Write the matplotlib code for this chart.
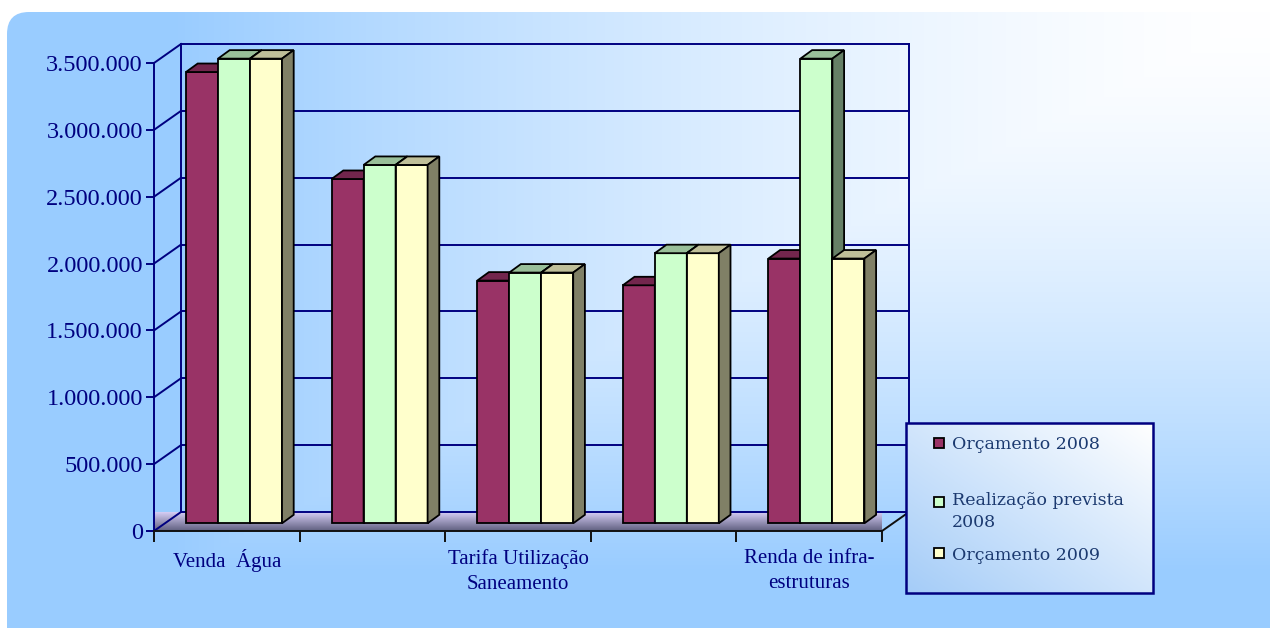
import numpy as np
import matplotlib.pyplot as plt
from matplotlib.patches import Polygon, Rectangle, FancyBboxPatch
from matplotlib.ticker import FuncFormatter

plt.rcParams['font.family'] = ['Liberation Serif', 'DejaVu Serif']

# dados
categorias = ["Venda  Água", "", "Tarifa Utilização\nSaneamento", "", "Renda de infra-\nestruturas"]
series = ["Orçamento 2008", "Realização prevista\n2008", "Orçamento 2009"]
orcamento_2008 = [3375000, 2575000, 1815000, 1780000, 1980000]
realizacao_2008 = [3475000, 2680000, 1875000, 2020000, 3475000]
orcamento_2009 = [3475000, 2680000, 1875000, 2020000, 1980000]
valores = [orcamento_2008, realizacao_2008, orcamento_2009]
yticks = np.arange(0, 3500001, 500000)

cores_frente = ["#993366", "#CCFFCC", "#FFFFCC"]
cores_topo = ["#73264D", "#99BF99", "#BFBF99"]
cores_lado = ["#4D1A33", "#668066", "#808066"]
navy = "#000080"

W, H = 1270, 628
fig = plt.figure(figsize=(W / 100, H / 100), dpi=100)

# fundo (gradiente a partir do canto superior direito)
bg = fig.add_axes([0, 0, 1, 1], zorder=0)
bg.set_xlim(0, W)
bg.set_ylim(H, 0)
bg.axis('off')
yy, xx = np.mgrid[0:H, 0:W]
t = np.maximum((W - xx) / 1100.0, (yy - 12) / 560.0)
t = np.clip(t, 0, 1) ** 1.5
azul = np.array([0x99, 0xCC, 0xFF]) / 255.0
grad = (1 - t)[..., None] * np.ones(3) + t[..., None] * azul
img = bg.imshow(grad, extent=(0, W, H, 0), aspect='auto', interpolation='bilinear')
moldura = FancyBboxPatch((7, 12), W + 30, H + 30, boxstyle="round,pad=0,rounding_size=22",
                         facecolor='none', edgecolor='none')
bg.add_patch(moldura)
img.set_clip_path(moldura)
img.set_clip_box(None)

# eixos principais (plano da frente)
x0, x1, yb, yt = 154, 882, 531, 63
ax = fig.add_axes([x0 / W, 1 - yb / H, (x1 - x0) / W, (yb - yt) / H], zorder=2)
ax.patch.set_alpha(0)
n = len(categorias)
ymax = 3500000
px_x = (x1 - x0) / n
px_y = (yb - yt) / ymax


def desloc(dx, dy):
    return dx / px_x, dy / px_y


# paredes e chao
PX, PY = desloc(27, 19)
piso = Polygon([(0, 0), (n, 0), (n + PX, PY), (0, PY)], closed=True,
               facecolor='none', edgecolor='none')
ax.add_patch(piso)
c_frente = np.array([0x60, 0x60, 0x80]) / 255.0
c_fundo = np.array([0xD4, 0xCC, 0xF4]) / 255.0
s = np.linspace(0, 1, 40)[:, None, None]
grad_piso = (1 - s) * c_frente + s * c_fundo
im_piso = ax.imshow(grad_piso, extent=(0, n + PX, 0, PY), origin='lower', aspect='auto',
                    interpolation='bilinear', zorder=1)
im_piso.set_clip_path(piso)
im_piso.set_clip_box(None)

for v in yticks:
    ax.plot([0, PX], [v, v + PY], color=navy, lw=1.4, clip_on=False, zorder=1.5)
    ax.plot([PX, n + PX], [v + PY, v + PY], color=navy, lw=1.4, clip_on=False, zorder=1.5)
ax.plot([PX, PX], [PY, ymax + PY], color=navy, lw=1.4, clip_on=False, zorder=1.5)
ax.plot([n + PX, n + PX], [PY, ymax + PY], color=navy, lw=1.4, clip_on=False, zorder=1.5)
ax.plot([n, n + PX], [0, PY], color='#101010', lw=1.4, clip_on=False, zorder=1.6)

# barras
larg = 32 / px_x
fx, fy = desloc(7.2, 7.7)
bx, by = desloc(11.7, 8.5)
centros = np.arange(n) + 0.5
for j, vals in enumerate(valores):
    xl = centros + (j - 1.5) * larg + fx
    ax.bar(xl, vals, width=larg, bottom=fy, align='edge', color=cores_frente[j],
           edgecolor='black', lw=1.3, zorder=3 + j, clip_on=False)
    for x, v in zip(xl, vals):
        h = v + fy
        ax.fill([x, x + larg, x + larg + bx, x + bx], [h, h, h + by, h + by],
                facecolor=cores_topo[j], edgecolor='black', lw=1.3, zorder=3 + j, clip_on=False)
        ax.fill([x + larg, x + larg + bx, x + larg + bx, x + larg], [fy, fy + by, h + by, h],
                facecolor=cores_lado[j], edgecolor='black', lw=1.3, zorder=3 + j, clip_on=False)

ax.set_xlim(0, n)
ax.set_ylim(0, ymax)
for lado in ['top', 'right']:
    ax.spines[lado].set_visible(False)
ax.spines['left'].set_color(navy)
ax.spines['left'].set_linewidth(1.4)
ax.spines['left'].set_zorder(2)
ax.spines['bottom'].set_color('#101010')
ax.spines['bottom'].set_linewidth(1.4)

ax.set_yticks(yticks)
ax.yaxis.set_major_formatter(FuncFormatter(lambda v, p: f"{int(v):,}".replace(",", ".")))
ax.tick_params(axis='y', direction='out', length=6, width=1.4, color=navy,
               labelcolor=navy, labelsize=17.5, pad=2)
ax.set_xticks(np.arange(n + 1))
ax.set_xticklabels([])
ax.set_xticks(centros, minor=True)
ax.set_xticklabels(categorias, minor=True, linespacing=1.45)
ax.tick_params(axis='x', which='major', direction='out', length=8, width=1.4, color='#101010')
ax.tick_params(axis='x', which='minor', length=0, pad=13, labelsize=15, labelcolor=navy)

# legenda
ov = fig.add_axes([0, 0, 1, 1], zorder=5)
ov.set_xlim(0, W)
ov.set_ylim(H, 0)
ov.axis('off')
lx0, ly0, lx1, ly1 = 906, 423, 1153, 593
gy, gx = np.mgrid[0:ly1 - ly0, 0:lx1 - lx0]
tl = ((lx1 - lx0 - gx) / (lx1 - lx0) + gy / (ly1 - ly0)) / 2
azul_l = np.array([0xA4, 0xCC, 0xF8]) / 255.0
grad_l = (1 - tl)[..., None] * np.ones(3) + tl[..., None] * azul_l
ov.imshow(grad_l, extent=(lx0, lx1, ly1, ly0), aspect='auto', interpolation='bilinear')
ov.add_patch(Rectangle((lx0, ly0), lx1 - lx0, ly1 - ly0, facecolor='none',
                       edgecolor=navy, lw=1.8))
marc_y = [442.7, 501.7, 553.0]
base_y = [449.3, 526.7, 559.5]  # linha de base da ultima linha de cada entrada
for j, nome in enumerate(series):
    ov.add_patch(Rectangle((934, marc_y[j] - 5), 10, 10, facecolor=cores_frente[j],
                           edgecolor='black', lw=1.3))
    ov.text(952, base_y[j], nome, fontsize=12.5, family='DejaVu Serif', color='#1C3A70',
            va='baseline', ha='left', linespacing=1.34)

fig.savefig("out.png", dpi=100)
